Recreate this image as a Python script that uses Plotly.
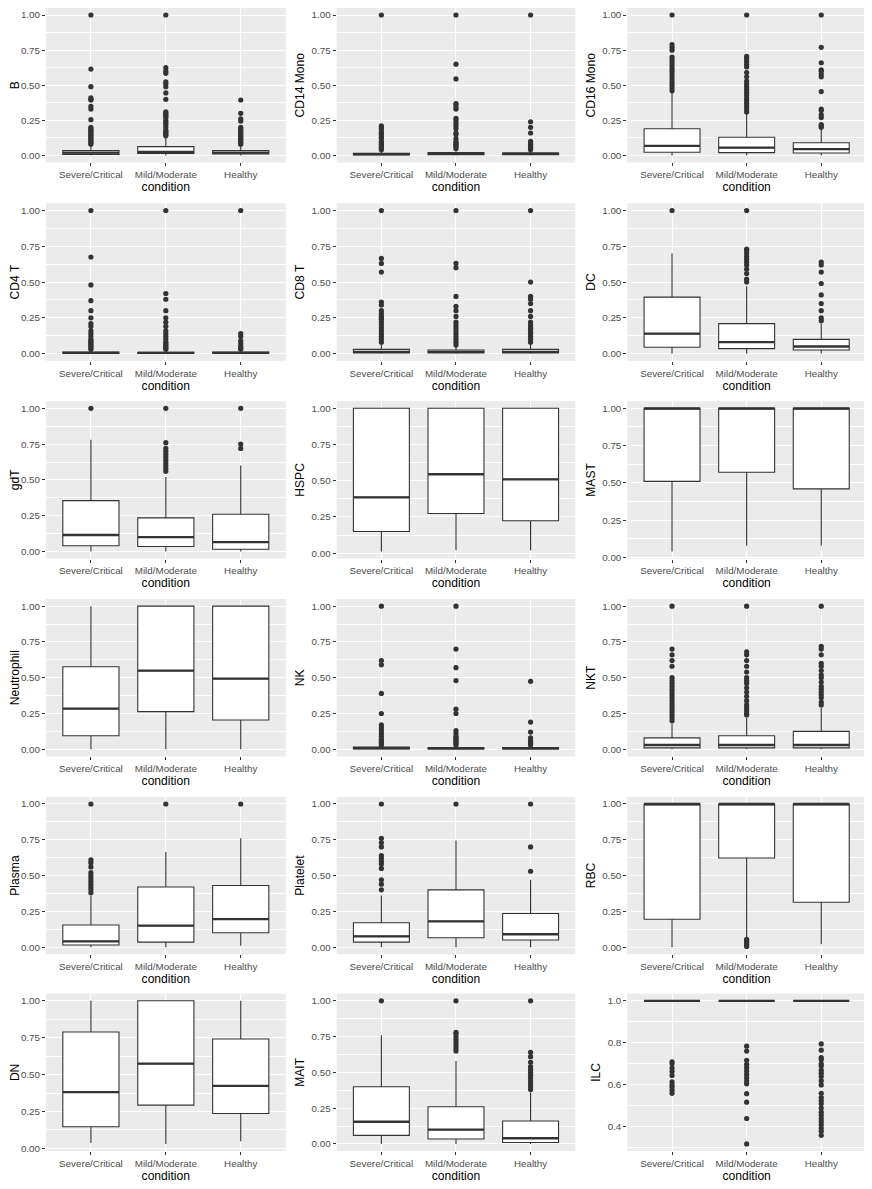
import plotly.graph_objects as go

conditions = ["Severe/Critical", "Mild/Moderate", "Healthy"]
cell_types = ["B", "CD14 Mono", "CD16 Mono", "CD4 T", "CD8 T", "DC",
              "gdT", "HSPC", "MAST", "Neutrophil", "NK", "NKT",
              "Plasma", "Platelet", "RBC", "DN", "MAIT", "ILC"]

# box statistics per cell type, one value per condition
lower = {
    "B": [0, 0, 0], "CD14 Mono": [0, 0, 0], "CD16 Mono": [0, 0, 0],
    "CD4 T": [0, 0, 0], "CD8 T": [0, 0, 0], "DC": [0, 0, 0],
    "gdT": [0, 0, 0], "HSPC": [0.012, 0.02, 0.02], "MAST": [0.04, 0.078, 0.078],
    "Neutrophil": [0, 0, 0], "NK": [0, 0, 0], "NKT": [0, 0, 0],
    "Plasma": [0, 0, 0.01], "Platelet": [0, 0, 0], "RBC": [0.0, 0.065, 0.02],
    "DN": [0.036, 0.03, 0.048], "MAIT": [0, 0, 0], "ILC": [1, 1, 1],
}
q1 = {
    "B": [0.008, 0.015, 0.01], "CD14 Mono": [0.004, 0.005, 0.005],
    "CD16 Mono": [0.023, 0.02, 0.018], "CD4 T": [0.002, 0.002, 0.003],
    "CD8 T": [0.005, 0.005, 0.005], "DC": [0.045, 0.035, 0.025],
    "gdT": [0.04, 0.035, 0.015], "HSPC": [0.15, 0.274, 0.224],
    "MAST": [0.51, 0.571, 0.46], "Neutrophil": [0.095, 0.263, 0.205],
    "NK": [0.003, 0.003, 0.003], "NKT": [0.01, 0.01, 0.01],
    "Plasma": [0.015, 0.035, 0.10], "Platelet": [0.035, 0.065, 0.05],
    "RBC": [0.195, 0.623, 0.314], "DN": [0.147, 0.293, 0.236],
    "MAIT": [0.06, 0.035, 0.01], "ILC": [1, 1, 1],
}
median = {
    "B": [0.02, 0.025, 0.02], "CD14 Mono": [0.01, 0.012, 0.012],
    "CD16 Mono": [0.068, 0.056, 0.045], "CD4 T": [0.005, 0.005, 0.006],
    "CD8 T": [0.012, 0.012, 0.012], "DC": [0.14, 0.08, 0.05],
    "gdT": [0.115, 0.10, 0.065], "HSPC": [0.385, 0.545, 0.51],
    "MAST": [1, 1, 1], "Neutrophil": [0.284, 0.549, 0.493],
    "NK": [0.008, 0.007, 0.007], "NKT": [0.03, 0.03, 0.03],
    "Plasma": [0.04, 0.15, 0.195], "Platelet": [0.075, 0.18, 0.09],
    "RBC": [1, 1, 1], "DN": [0.381, 0.574, 0.424],
    "MAIT": [0.155, 0.10, 0.04], "ILC": [1, 1, 1],
}
q3 = {
    "B": [0.035, 0.063, 0.035], "CD14 Mono": [0.015, 0.02, 0.018],
    "CD16 Mono": [0.19, 0.13, 0.09], "CD4 T": [0.012, 0.01, 0.012],
    "CD8 T": [0.03, 0.025, 0.03], "DC": [0.395, 0.21, 0.10],
    "gdT": [0.355, 0.235, 0.26], "HSPC": [1, 1, 1],
    "MAST": [1, 1, 1], "Neutrophil": [0.577, 1, 1],
    "NK": [0.015, 0.012, 0.012], "NKT": [0.08, 0.095, 0.125],
    "Plasma": [0.155, 0.42, 0.43], "Platelet": [0.17, 0.40, 0.235],
    "RBC": [1, 1, 1], "DN": [0.789, 1, 0.741],
    "MAIT": [0.40, 0.26, 0.16], "ILC": [1, 1, 1],
}
upper = {
    "B": [0.07, 0.13, 0.07], "CD14 Mono": [0.035, 0.04, 0.035],
    "CD16 Mono": [0.445, 0.297, 0.19], "CD4 T": [0.025, 0.022, 0.025],
    "CD8 T": [0.065, 0.055, 0.07], "DC": [0.70, 0.47, 0.21],
    "gdT": [0.78, 0.52, 0.60], "HSPC": [1, 1, 1],
    "MAST": [1, 1, 1], "Neutrophil": [1, 1, 1],
    "NK": [0.03, 0.025, 0.025], "NKT": [0.18, 0.22, 0.29],
    "Plasma": [0.36, 0.665, 0.76], "Platelet": [0.36, 0.745, 0.47],
    "RBC": [1, 1, 1], "DN": [1, 1, 1],
    "MAIT": [0.76, 0.58, 0.36], "ILC": [1, 1, 1],
}
outliers = {
    "B": [
        [1.0, 0.615, 0.49, 0.41, 0.40, 0.395, 0.35, 0.33, 0.255, 0.20, 0.19, 0.18,
         0.17, 0.16, 0.15, 0.14, 0.13, 0.12, 0.11, 0.10, 0.09, 0.08],
        [1.0, 0.625, 0.60, 0.585, 0.525, 0.51, 0.49, 0.445, 0.40, 0.31, 0.30, 0.29,
         0.28, 0.27, 0.25, 0.235, 0.22, 0.20, 0.18, 0.17, 0.16, 0.15, 0.14],
        [0.395, 0.30, 0.26, 0.245, 0.20, 0.19, 0.18, 0.17, 0.16, 0.15, 0.14, 0.13,
         0.12, 0.11, 0.10, 0.09, 0.08],
    ],
    "CD14 Mono": [
        [1.0, 0.21, 0.20, 0.19, 0.17, 0.16, 0.15, 0.13, 0.12, 0.10, 0.09, 0.08,
         0.07, 0.06, 0.05, 0.04],
        [1.0, 0.65, 0.545, 0.37, 0.36, 0.34, 0.33, 0.265, 0.25, 0.23, 0.21, 0.19,
         0.16, 0.15, 0.12, 0.10, 0.09, 0.08, 0.07, 0.06, 0.05],
        [1.0, 0.24, 0.20, 0.16, 0.10, 0.09, 0.08, 0.07, 0.06, 0.05, 0.04],
    ],
    "CD16 Mono": [
        [1.0, 0.79, 0.77, 0.75, 0.70, 0.68, 0.66, 0.64, 0.62, 0.60, 0.58, 0.56,
         0.54, 0.52, 0.50, 0.48, 0.46],
        [1.0, 0.705, 0.69, 0.67, 0.65, 0.63, 0.59, 0.56, 0.53, 0.51, 0.49, 0.47,
         0.45, 0.43, 0.41, 0.39, 0.37, 0.35, 0.33, 0.31],
        [1.0, 0.77, 0.66, 0.61, 0.60, 0.58, 0.56, 0.455, 0.33, 0.32, 0.29, 0.27,
         0.22, 0.21, 0.20],
    ],
    "CD4 T": [
        [1.0, 0.675, 0.48, 0.37, 0.30, 0.25, 0.21, 0.19, 0.16, 0.14, 0.12, 0.10,
         0.09, 0.08, 0.07, 0.06, 0.05, 0.04, 0.03],
        [1.0, 0.42, 0.38, 0.30, 0.25, 0.22, 0.19, 0.16, 0.14, 0.12, 0.10, 0.08,
         0.07, 0.06, 0.05, 0.04, 0.03],
        [1.0, 0.14, 0.12, 0.09, 0.07, 0.05, 0.04, 0.03],
    ],
    "CD8 T": [
        [1.0, 0.665, 0.63, 0.57, 0.36, 0.34, 0.30, 0.28, 0.26, 0.25, 0.24, 0.22,
         0.20, 0.18, 0.16, 0.14, 0.12, 0.10, 0.08],
        [1.0, 0.63, 0.60, 0.40, 0.33, 0.30, 0.26, 0.22, 0.20, 0.18, 0.16, 0.14,
         0.12, 0.10, 0.08, 0.06],
        [1.0, 0.50, 0.40, 0.38, 0.35, 0.30, 0.26, 0.22, 0.20, 0.18, 0.17, 0.15,
         0.14, 0.12, 0.10, 0.08],
    ],
    "DC": [
        [1.0],
        [1.0, 0.73, 0.72, 0.70, 0.68, 0.66, 0.64, 0.62, 0.59, 0.56, 0.52, 0.50],
        [0.64, 0.62, 0.57, 0.49, 0.41, 0.35, 0.30, 0.25, 0.23],
    ],
    "gdT": [
        [1.0],
        [1.0, 0.76, 0.72, 0.70, 0.68, 0.66, 0.64, 0.62, 0.60, 0.58, 0.56],
        [1.0, 0.75, 0.72],
    ],
    "HSPC": [[], [], []],
    "MAST": [[], [], []],
    "Neutrophil": [[], [], []],
    "NK": [
        [1.0, 0.62, 0.59, 0.39, 0.25, 0.17, 0.15, 0.13, 0.11, 0.09, 0.07, 0.06,
         0.05, 0.04, 0.03],
        [1.0, 0.70, 0.57, 0.48, 0.28, 0.25, 0.13, 0.11, 0.09, 0.08, 0.07, 0.06,
         0.05, 0.04, 0.03],
        [0.475, 0.19, 0.12, 0.08, 0.06, 0.05, 0.04, 0.03],
    ],
    "NKT": [
        [1.0, 0.70, 0.66, 0.62, 0.58, 0.50, 0.48, 0.46, 0.44, 0.42, 0.40, 0.38,
         0.36, 0.34, 0.32, 0.30, 0.28, 0.26, 0.24, 0.22, 0.20],
        [1.0, 0.68, 0.66, 0.62, 0.58, 0.54, 0.50, 0.48, 0.46, 0.43, 0.40, 0.37,
         0.34, 0.31, 0.29, 0.27, 0.25, 0.24],
        [1.0, 0.72, 0.70, 0.66, 0.60, 0.58, 0.55, 0.52, 0.50, 0.47, 0.44, 0.42,
         0.40, 0.38, 0.36, 0.33, 0.31],
    ],
    "Plasma": [
        [1.0, 0.61, 0.59, 0.56, 0.52, 0.50, 0.48, 0.46, 0.44, 0.42, 0.40, 0.38],
        [1.0],
        [1.0],
    ],
    "Platelet": [
        [1.0, 0.76, 0.73, 0.70, 0.64, 0.62, 0.60, 0.58, 0.55, 0.47, 0.44, 0.40],
        [1.0],
        [1.0, 0.70, 0.53],
    ],
    "RBC": [
        [],
        [0.055, 0.045, 0.035, 0.025, 0.015, 0.005],
        [],
    ],
    "DN": [[], [], []],
    "MAIT": [
        [1.0],
        [1.0, 0.78, 0.77, 0.75, 0.73, 0.71, 0.69, 0.67, 0.65],
        [1.0, 0.64, 0.61, 0.57, 0.54, 0.52, 0.50, 0.48, 0.46, 0.44, 0.42, 0.40, 0.38],
    ],
    "ILC": [
        [0.71, 0.70, 0.68, 0.665, 0.645, 0.615, 0.60, 0.59, 0.575, 0.56],
        [0.784, 0.761, 0.717, 0.698, 0.682, 0.666, 0.65, 0.634, 0.618, 0.605,
         0.558, 0.518, 0.44, 0.319],
        [0.795, 0.765, 0.73, 0.72, 0.70, 0.69, 0.67, 0.655, 0.64, 0.62, 0.60,
         0.56, 0.54, 0.525, 0.51, 0.49, 0.47, 0.455, 0.44, 0.425, 0.41, 0.395,
         0.38, 0.36],
    ],
}

# the page body keeps an 8px margin: figure starts at (8, 8) in the window
OFF = 8
W, H = 872 - OFF, 1189 - OFF
col_px = [(45, 285), (336, 575), (627, 866)]
row_top_px = [5, 204, 402.5, 601, 799.5, 997]
panel_h = 158

FONT = "Liberation Sans, Arial, Helvetica, sans-serif"
DARK = "#333333"

fig = go.Figure()
layout = {}

for i, ct in enumerate(cell_types):
    r, c = divmod(i, 3)
    n = i + 1
    xa = "x" if n == 1 else f"x{n}"
    ya = "y" if n == 1 else f"y{n}"

    fig.add_trace(go.Box(
        x=conditions, q1=q1[ct], median=median[ct], q3=q3[ct],
        lowerfence=lower[ct], upperfence=upper[ct],
        fillcolor="white", line=dict(color=DARK, width=1.1),
        whiskerwidth=0, boxpoints=False, width=0.75,
        xaxis=xa, yaxis=ya, showlegend=False, hoverinfo="skip",
    ))
    # thicker median bar, as in ggplot
    fig.add_trace(go.Box(
        x=conditions, q1=median[ct], median=median[ct], q3=median[ct],
        lowerfence=median[ct], upperfence=median[ct],
        fillcolor="rgba(0,0,0,0)", line=dict(color=DARK, width=2.3),
        whiskerwidth=0, boxpoints=False, width=0.75,
        xaxis=xa, yaxis=ya, showlegend=False, hoverinfo="skip",
    ))
    ox, oy = [], []
    for cond, pts in zip(conditions, outliers[ct]):
        ox += [cond] * len(pts)
        oy += pts
    fig.add_trace(go.Scatter(
        x=ox, y=oy, mode="markers",
        marker=dict(color=DARK, size=5.2, line=dict(width=0)),
        xaxis=xa, yaxis=ya, showlegend=False, hoverinfo="skip",
    ))

    vals = lower[ct] + upper[ct] + [v for pts in outliers[ct] for v in pts]
    lo, hi = min(vals), max(vals)
    pad = 0.05 * (hi - lo)

    if ct == "ILC":
        ytick = dict(tick0=0, dtick=0.2, tickformat=".1f")
        minor_dt = 0.1
    else:
        ytick = dict(tick0=0, dtick=0.25, tickformat=".2f")
        minor_dt = 0.125

    x0, x1 = (p - OFF for p in col_px[c])
    top = max(row_top_px[r] - OFF, 0)
    bot = row_top_px[r] + panel_h - OFF

    layout[f"xaxis{'' if n == 1 else n}"] = dict(
        domain=[x0 / W, x1 / W], anchor=ya,
        type="category", categoryorder="array", categoryarray=conditions,
        range=[-0.6, 2.6],
        showgrid=True, gridcolor="white", gridwidth=1.1,
        zeroline=False, showline=False,
        ticks="outside", ticklen=3, tickwidth=1, tickcolor=DARK,
        tickfont=dict(family=FONT, size=9.8, color="#4D4D4D"),
        title=dict(text="condition", font=dict(family=FONT, size=12.1, color="black"),
                   standoff=2),
    )
    layout[f"yaxis{'' if n == 1 else n}"] = dict(
        domain=[1 - bot / H, 1 - top / H], anchor=xa,
        range=[lo - pad, hi + pad], tickmode="linear", **ytick,
        showgrid=True, gridcolor="white", gridwidth=1.1,
        minor=dict(tick0=0, dtick=minor_dt, showgrid=True, gridcolor="white",
                   gridwidth=0.55, ticks=""),
        zeroline=False, showline=False,
        ticks="outside", ticklen=3, tickwidth=1, tickcolor=DARK,
        tickfont=dict(family=FONT, size=9.8, color="#4D4D4D"),
        title=dict(text=ct, font=dict(family=FONT, size=12.1, color="black"),
                   standoff=4),
    )

fig.update_layout(
    width=W, height=H,
    margin=dict(l=0, r=0, t=0, b=0),
    paper_bgcolor="white", plot_bgcolor="#EBEBEB",
    boxmode="overlay",
    font=dict(family=FONT),
    **layout,
)

fig.write_html("out.html")
